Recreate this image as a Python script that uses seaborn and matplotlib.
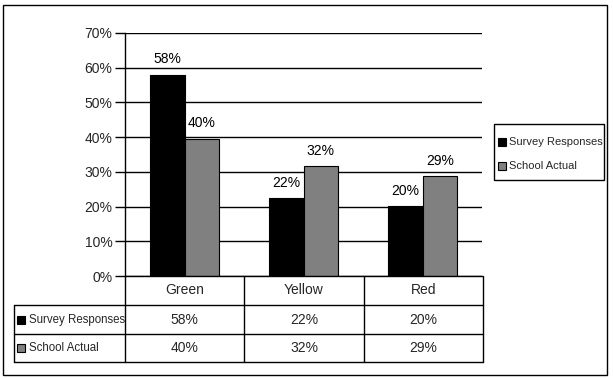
import matplotlib
matplotlib.use("Agg")
import matplotlib.pyplot as plt
import seaborn as sns
import pandas as pd
from matplotlib.patches import Rectangle
from matplotlib.lines import Line2D

categories = ["Green", "Yellow", "Red"]
series_names = ["Survey Responses", "School Actual"]
survey = [0.58, 0.224, 0.201]
actual = [0.396, 0.317, 0.287]
yticks = [0, 0.1, 0.2, 0.3, 0.4, 0.5, 0.6, 0.7]
colors = ["#000000", "#808080"]

sns.set_theme(style="white")
plt.rcParams['font.family'] = ['Liberation Sans', 'DejaVu Sans']

W, H = 613, 378
fig = plt.figure(figsize=(W / 100, H / 100), dpi=100)
fig.patch.set_facecolor("white")

def fx(x):
    return x / W

def fy(y):
    return 1 - y / H

df = pd.DataFrame({
    "cat": categories * 2,
    "series": [series_names[0]] * 3 + [series_names[1]] * 3,
    "val": survey + actual,
})

L, R, T, B = 125, 482, 33, 276
ax = fig.add_axes([fx(L), fy(B), (R - L) / W, (B - T) / H])
sns.barplot(data=df, x="cat", y="val", hue="series", palette=colors, ax=ax,
            width=0.58, edgecolor="black", linewidth=0.8, legend=False, saturation=1)
ax.set_ylim(0, 0.7)
ax.set_xlim(-0.5, 2.5)
ax.set_yticks(yticks)
ax.set_yticklabels([f"{int(round(t*100))}%" for t in yticks], fontsize=10)
ax.set_xticks([])
ax.set_xlabel("")
ax.set_ylabel("")
ax.yaxis.grid(True, color="black", linewidth=1)
ax.set_axisbelow(True)
ax.tick_params(axis="y", length=7, width=1, color="black", direction="out", left=True, pad=2)
for s in ["top", "right"]:
    ax.spines[s].set_visible(False)
ax.spines["left"].set_color("black")
ax.spines["bottom"].set_color("black")
ax.spines["left"].set_linewidth(1)
ax.spines["bottom"].set_linewidth(1)

for cont in ax.containers:
    for bar in cont:
        h = bar.get_height()
        ax.annotate(f"{int(round(h*100))}%", (bar.get_x() + bar.get_width() / 2, h),
                    xytext=(0, 6), textcoords="offset points", ha="center", va="bottom",
                    fontsize=10, color="black")

# outer border
fig.add_artist(Rectangle((fx(3), fy(375)), (607 - 3) / W, (375 - 5) / H,
                         transform=fig.transFigure, fill=False, edgecolor="black", linewidth=1))

# data table
def hline(x0, x1, y):
    fig.add_artist(Line2D([fx(x0), fx(x1)], [fy(y), fy(y)], transform=fig.transFigure,
                          color="black", linewidth=1))

def vline(x, y0, y1):
    fig.add_artist(Line2D([fx(x), fx(x)], [fy(y0), fy(y1)], transform=fig.transFigure,
                          color="black", linewidth=1))

cols = [125, 244, 364, 483]
rows = [276, 305, 334, 362]
tl = 14
hline(tl, cols[-1], rows[1])
hline(tl, cols[-1], rows[2])
hline(tl, cols[-1], rows[3])
vline(tl, rows[1], rows[3])
for c in cols:
    vline(c, rows[0], rows[3])

for i, cat in enumerate(categories):
    cx = (cols[i] + cols[i + 1]) / 2
    fig.text(fx(cx), fy((rows[0] + rows[1]) / 2), cat, ha="center", va="center", fontsize=10)
    for j, vals in enumerate([survey, actual]):
        fig.text(fx(cx), fy((rows[j + 1] + rows[j + 2]) / 2), f"{int(round(vals[i]*100))}%",
                 ha="center", va="center", fontsize=10)

for j, name in enumerate(series_names):
    cy = (rows[j + 1] + rows[j + 2]) / 2
    fig.add_artist(Rectangle((fx(17), fy(cy + 4)), 8 / W, 8 / H, transform=fig.transFigure,
                             facecolor=colors[j], edgecolor="black", linewidth=0.8))
    fig.text(fx(29), fy(cy), name, ha="left", va="center", fontsize=8.3)

# legend
lx0, lx1, ly0, ly1 = 494, 604, 124, 180
fig.add_artist(Rectangle((fx(lx0), fy(ly1)), (lx1 - lx0) / W, (ly1 - ly0) / H,
                         transform=fig.transFigure, fill=False, edgecolor="black", linewidth=1))
for j, name in enumerate(series_names):
    cy = 142 + j * 24
    fig.add_artist(Rectangle((fx(498), fy(cy + 4)), 8 / W, 8 / H, transform=fig.transFigure,
                             facecolor=colors[j], edgecolor="black", linewidth=0.8))
    fig.text(fx(509), fy(cy), name, ha="left", va="center", fontsize=8.0)

fig.savefig("out.png", dpi=100, facecolor="white")
